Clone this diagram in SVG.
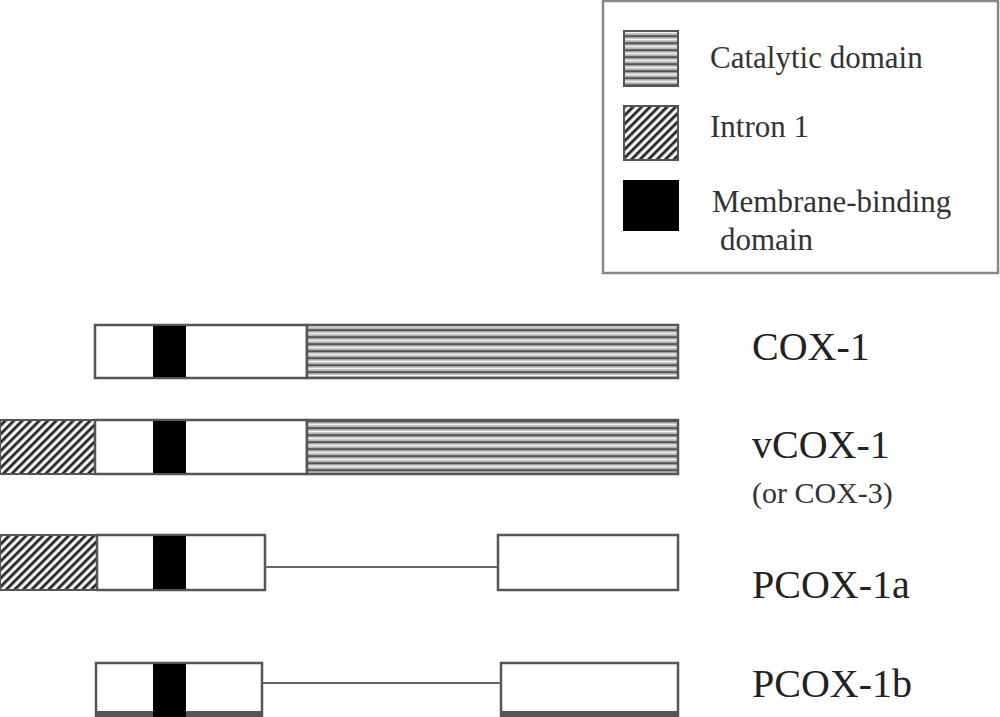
<svg xmlns="http://www.w3.org/2000/svg" width="1000" height="717" viewBox="0 0 1000 717">
<style>
.box{fill:#fff;stroke:#555;stroke-width:2.5}
.cat{fill:url(#catPat);stroke:#555;stroke-width:2.5}
.intr{fill:url(#intPat);stroke:#555;stroke-width:2}
.mem{fill:#000}
.lbl{font-family:"Liberation Serif","Times New Roman",serif;font-size:40px;fill:#222}
.leg{font-family:"Liberation Serif","Times New Roman",serif;font-size:31px;fill:#333}
.sub{font-family:"Liberation Serif","Times New Roman",serif;font-size:30px;fill:#333}
.link{stroke:#666;stroke-width:2;fill:none}
</style>
<defs>
<pattern id="catPat" patternUnits="userSpaceOnUse" width="10" height="7">
<rect width="10" height="7" fill="#b5b5b5"/>
<line x1="0" y1="1.2" x2="10" y2="1.2" stroke="#555" stroke-width="2"/>
<line x1="0" y1="4.5" x2="10" y2="4.5" stroke="#f2f2f2" stroke-width="1.6"/>
</pattern>
<pattern id="intPat" patternUnits="userSpaceOnUse" width="6" height="6" patternTransform="rotate(45)">
<rect width="6" height="6" fill="#ddd"/>
<rect x="0" y="0" width="2.6" height="6" fill="#222"/>
<rect x="3.4" y="0" width="1.6" height="6" fill="#fff"/>
</pattern>
</defs>

<g id="legend">
<rect x="603" y="1" width="395" height="272" fill="#fff" stroke="#888" stroke-width="2.5"/>
<rect class="cat" x="624" y="31" width="54" height="55" style="stroke-width:2"/>
<text class="leg" x="710" y="68">Catalytic domain</text>
<rect class="intr" x="624" y="106" width="54" height="54"/>
<text class="leg" x="710" y="137">Intron 1</text>
<rect class="mem" x="623" y="180" width="56" height="51"/>
<text class="leg" x="712" y="212">Membrane-binding</text>
<text class="leg" x="720" y="250">domain</text>
</g>

<g id="cox1">
<rect class="box" x="95" y="325" width="212" height="53"/>
<rect class="cat" x="307" y="325" width="371" height="53"/>
<rect class="mem" x="153" y="326" width="33" height="51"/>
<text class="lbl" x="752" y="360">COX-1</text>
</g>

<g id="vcox1">
<rect class="intr" x="0" y="420" width="95" height="54"/>
<rect class="box" x="95" y="420" width="212" height="54"/>
<rect class="cat" x="307" y="420" width="371" height="54"/>
<rect class="mem" x="153" y="421" width="33" height="52"/>
<text class="lbl" x="752" y="458">vCOX-1</text>
<text class="sub" x="752" y="503">(or COX-3)</text>
</g>

<g id="pcox1a">
<rect class="intr" x="0" y="535" width="97" height="55"/>
<rect class="box" x="97" y="535" width="168" height="55"/>
<rect class="mem" x="153" y="536" width="33" height="53"/>
<rect class="box" x="498" y="535" width="180" height="55"/>
<text class="lbl" x="752" y="598">PCOX-1a</text>
</g>

<g id="pcox1b">
<rect class="box" x="96" y="663" width="166" height="60"/>
<rect class="box" x="501" y="663" width="177" height="60"/>
<rect x="95" y="711" width="168" height="8" fill="#555"/>
<rect x="500" y="711" width="179" height="8" fill="#555"/>
<rect class="mem" x="153" y="664" width="33" height="55"/>
<text class="lbl" x="752" y="697">PCOX-1b</text>
</g>

<g id="connectors">
<line class="link" x1="265" y1="567" x2="498" y2="567"/>
<line class="link" x1="262" y1="683" x2="501" y2="683"/>
</g>
</svg>
